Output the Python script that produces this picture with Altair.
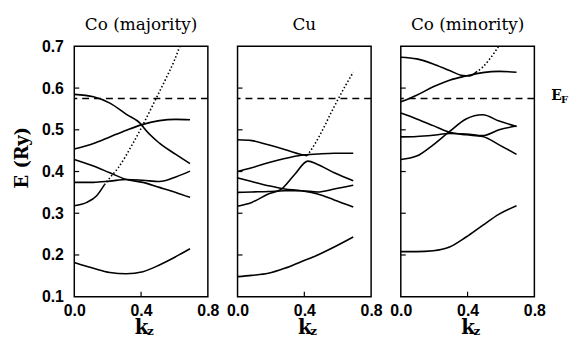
import altair as alt
import pandas as pd

SERIF = "DejaVu Serif"
SANS = "Liberation Sans"
EF = 0.575
Y_TICKS = [0.1, 0.2, 0.3, 0.4, 0.5, 0.6, 0.7]
X_TICKS = [0.0, 0.4, 0.8]
INNER_Y_TICKS = [0.2, 0.3, 0.4, 0.5, 0.6]
TITLES = ["Co (majority)", "Cu", "Co (minority)"]

# ---------- Co (majority) ----------
k1 = [0.0, 0.115, 0.213, 0.312, 0.411, 0.51, 0.608, 0.693]
co_maj_a_k = [0.0, 0.115, 0.213, 0.312, 0.405, 0.42, 0.51, 0.608, 0.693]
co_maj_a = [0.585, 0.579, 0.564, 0.537, 0.511, 0.503, 0.468, 0.441, 0.419]
co_maj_b = [0.454, 0.467, 0.483, 0.499, 0.513, 0.522, 0.525, 0.524]
co_maj_c = [0.429, 0.413, 0.397, 0.381, 0.374, 0.362, 0.350, 0.338]
co_maj_d = [0.374, 0.374, 0.377, 0.381, 0.379, 0.376, 0.387, 0.401]
co_maj_e_k = [0.0, 0.075, 0.134, 0.18]
co_maj_e = [0.318, 0.326, 0.342, 0.368]
co_maj_dot_k = [0.18, 0.213, 0.263, 0.352, 0.401, 0.45, 0.49, 0.549, 0.599, 0.632]
co_maj_dot = [0.368, 0.385, 0.409, 0.468, 0.504, 0.543, 0.575, 0.623, 0.666, 0.700]
co_maj_f = [0.182, 0.168, 0.158, 0.155, 0.160, 0.176, 0.196, 0.215]

# ---------- Cu ----------
k2 = [0.0, 0.085, 0.184, 0.282, 0.381, 0.48, 0.579, 0.693]
cu_a_k = [0.0, 0.085, 0.184, 0.282, 0.381, 0.417]
cu_a = [0.476, 0.474, 0.464, 0.453, 0.441, 0.438]
cu_dot_k = [0.417, 0.46, 0.52, 0.559, 0.599, 0.648, 0.693]
cu_dot = [0.438, 0.464, 0.508, 0.540, 0.571, 0.607, 0.638]
cu_b = [0.400, 0.409, 0.421, 0.431, 0.439, 0.442, 0.444, 0.444]
cu_g_k = [0.0, 0.085, 0.184, 0.263, 0.342, 0.421, 0.48, 0.579, 0.693]
cu_g = [0.317, 0.326, 0.346, 0.358, 0.393, 0.425, 0.417, 0.397, 0.378]
cu_c = [0.385, 0.376, 0.366, 0.358, 0.354, 0.346, 0.332, 0.315]
cu_d = [0.350, 0.351, 0.352, 0.354, 0.354, 0.351, 0.358, 0.367]
cu_f = [0.148, 0.151, 0.156, 0.168, 0.184, 0.200, 0.219, 0.243]

# ---------- Co (minority) ----------
k3 = [0.0, 0.095, 0.194, 0.292, 0.391, 0.49, 0.589, 0.693]
co_min_a_k = [0.0, 0.095, 0.194, 0.292, 0.371, 0.411, 0.45]
co_min_a = [0.674, 0.670, 0.658, 0.642, 0.630, 0.629, 0.638]
co_min_dot_k = [0.45, 0.49, 0.529, 0.559, 0.585]
co_min_dot = [0.638, 0.650, 0.668, 0.684, 0.700]
co_min_b = [0.567, 0.583, 0.603, 0.619, 0.629, 0.637, 0.640, 0.638]
co_min_c = [0.540, 0.526, 0.510, 0.494, 0.488, 0.484, 0.464, 0.441]
co_min_d = [0.483, 0.484, 0.487, 0.491, 0.490, 0.486, 0.500, 0.509]
co_min_g = [0.429, 0.437, 0.464, 0.496, 0.526, 0.536, 0.521, 0.508]
co_min_f = [0.208, 0.208, 0.210, 0.219, 0.243, 0.271, 0.298, 0.318]

rows = []


def add(panel, band, style, ks, es):
    for i, (k, e) in enumerate(zip(ks, es)):
        rows.append(dict(panel=panel, band=band, style=style, k=k, E=e, idx=i))


add("p1", "a", "solid", co_maj_a_k, co_maj_a)
add("p1", "b", "solid", k1, co_maj_b)
add("p1", "c", "solid", k1, co_maj_c)
add("p1", "d", "solid", k1, co_maj_d)
add("p1", "e", "solid", co_maj_e_k, co_maj_e)
add("p1", "dot", "dotted", co_maj_dot_k, co_maj_dot)
add("p1", "f", "solid", k1, co_maj_f)

add("p2", "a", "solid", cu_a_k, cu_a)
add("p2", "dot", "dotted", cu_dot_k, cu_dot)
add("p2", "b", "solid", k2, cu_b)
add("p2", "g", "solid", cu_g_k, cu_g)
add("p2", "c", "solid", k2, cu_c)
add("p2", "d", "solid", k2, cu_d)
add("p2", "f", "solid", k2, cu_f)

add("p3", "a", "solid", co_min_a_k, co_min_a)
add("p3", "dot", "dotted", co_min_dot_k, co_min_dot)
add("p3", "b", "solid", k3, co_min_b)
add("p3", "c", "solid", k3, co_min_c)
add("p3", "d", "solid", k3, co_min_d)
add("p3", "g", "solid", k3, co_min_g)
add("p3", "f", "solid", k3, co_min_f)

df = pd.DataFrame(rows)
tick_df = pd.DataFrame({"E": INNER_Y_TICKS})
one_df = pd.DataFrame({"a": [1]})

W, H = 135, 253


def make_panel(pid, title, show_y, ef_label=False):
    xax = alt.Axis(values=X_TICKS, format=".1f", ticks=False, grid=False,
                   domain=False, labelFlush=False, labelOverlap=False, labelFont=SANS,
                   labelFontSize=16, labelFontWeight="bold", labelPadding=6,
                   labelColor="black", title="k", titleFont=SERIF, titleFontSize=20,
                   titleFontWeight="bold", titleColor="black", titleY=21,
                   titleBaseline="top")
    if show_y:
        yax = alt.Axis(values=Y_TICKS, format=".1f", ticks=False, grid=False,
                       domain=False, labelFont=SANS, labelFontSize=16,
                       labelFontWeight="bold", labelPadding=11, labelColor="black",
                       title="E (Ry)", titleFont=SERIF, titleFontSize=18,
                       titleFontWeight="bold", titleColor="black", titlePadding=10,
                       titleY=112)
    else:
        yax = None
    xs = alt.Scale(domain=[0, 0.8], nice=False, zero=False)
    ys = alt.Scale(domain=[0.1, 0.7], nice=False, zero=False)

    dpan = df[df.panel == pid]
    solid = alt.Chart(dpan[dpan["style"] == "solid"]).mark_line(
        color="black", strokeWidth=1.6, interpolate="monotone"
    ).encode(
        x=alt.X("k:Q", scale=xs, axis=xax),
        y=alt.Y("E:Q", scale=ys, axis=yax),
        detail="band:N",
        order="idx:Q",
    )
    dotted = alt.Chart(dpan[dpan["style"] == "dotted"]).mark_line(
        color="black", strokeWidth=1.6, interpolate="monotone", strokeDash=[1.5, 2.2]
    ).encode(
        x=alt.X("k:Q", scale=xs),
        y=alt.Y("E:Q", scale=ys),
        order="idx:Q",
    )
    fermi = alt.Chart(one_df).mark_rule(
        color="black", strokeWidth=1.4, strokeDash=[7, 5]
    ).encode(y=alt.datum(EF))
    yticks = alt.Chart(tick_df).mark_rule(color="black", strokeWidth=1.2).encode(
        y=alt.Y("E:Q", scale=ys), x=alt.value(0), x2=alt.value(5))
    xtick = alt.Chart(one_df).mark_rule(color="black", strokeWidth=1.2).encode(
        x=alt.datum(0.4), y=alt.value(H), y2=alt.value(H - 5))
    sub = alt.Chart(one_df).mark_text(
        font=SERIF, fontSize=12, fontWeight="bold", color="black",
        baseline="alphabetic", align="left", dx=6, text="z"
    ).encode(x=alt.datum(0.4), y=alt.value(H + 39))
    ttl = alt.Chart(one_df).mark_text(
        font=SERIF, fontSize=17, color="black", baseline="alphabetic",
        align="center", text=title
    ).encode(x=alt.datum(0.4), y=alt.value(-17))
    layers = [solid, dotted, fermi, yticks, xtick, sub, ttl]
    if ef_label:
        e = alt.Chart(one_df).mark_text(
            font=SERIF, fontSize=14, fontWeight="bold", color="black",
            baseline="alphabetic", align="left", dx=17, dy=2, text="E"
        ).encode(x=alt.datum(0.8), y=alt.datum(EF))
        f = alt.Chart(one_df).mark_text(
            font=SERIF, fontSize=10, fontWeight="bold", color="black",
            baseline="alphabetic", align="left", dx=27, dy=5, text="F"
        ).encode(x=alt.datum(0.8), y=alt.datum(EF))
        layers += [e, f]
    return alt.layer(*layers).properties(width=W, height=H)


p1 = make_panel("p1", TITLES[0], True)
p2 = make_panel("p2", TITLES[1], False)
p3 = make_panel("p3", TITLES[2], False, ef_label=True)

chart = alt.hconcat(p1, p2, p3, spacing=30, bounds="flush").properties(
    padding={"left": 5, "top": 5, "right": 0, "bottom": 0}
).configure(
    background="white",
    view=alt.ViewConfig(stroke="black", strokeWidth=1.5),
)

chart.save("out.html", embed_options={"renderer": "svg", "actions": False})
